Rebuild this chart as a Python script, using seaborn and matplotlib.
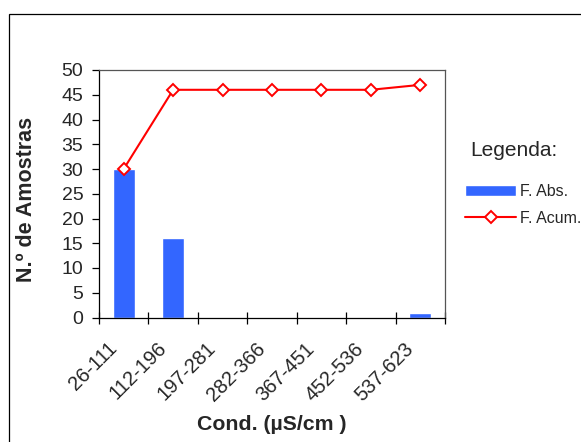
import numpy as np
import pandas as pd
import matplotlib
matplotlib.use("Agg")
import matplotlib.pyplot as plt
import matplotlib.transforms as mtransforms
from matplotlib.patches import Rectangle
import seaborn as sns

# ---- data ----
categories = ["26-111", "112-196", "197-281", "282-366", "367-451", "452-536", "537-623"]
f_abs = [30, 16, 0, 0, 0, 0, 1]
f_acum = [30, 46, 46, 46, 46, 46, 47]
y_ticks = [0, 5, 10, 15, 20, 25, 30, 35, 40, 45, 50]

sns.set_theme(style="white")
plt.rcParams["font.family"] = ["Liberation Sans", "DejaVu Sans"]

W, H = 581, 442
fig = plt.figure(figsize=(W / 100, H / 100), dpi=100)
fig.patch.set_facecolor("white")

# outer chart border (cut off at right/bottom as in reference)
x0 = 9 / W
ytop = 1 - 14 / H
fig.add_artist(Rectangle((x0, -0.2), 1.5, ytop + 0.2, transform=fig.transFigure,
                         fill=False, edgecolor="black", linewidth=0.9, clip_on=False))

left, right, top, bottom = 99 / W, 445 / W, 1 - 70 / H, 1 - 317.5 / H
ax = fig.add_axes([left, bottom, right - left, top - bottom])
ax.set_facecolor("white")

pos = np.arange(len(categories))
df = pd.DataFrame({"cat": categories, "pos": pos, "abs": f_abs, "acum": f_acum})

sns.barplot(data=df, x="cat", y="abs", color="#3366FF", saturation=1, width=0.45,
            ax=ax, label="F. Abs.")
sns.lineplot(data=df, x="pos", y="acum", color="#FF0000", linewidth=1.5,
             marker="D", markersize=6.5, markerfacecolor="white",
             markeredgecolor="#FF0000", markeredgewidth=1.4, ax=ax, label="F. Acum.")

ax.set_xlim(-0.5, len(categories) - 0.5)
ax.set_ylim(0, 50)
ax.set_yticks(y_ticks)
ax.set_yticklabels([str(v) for v in y_ticks])

ax.set_xticks(pos)
ax.set_xticklabels(categories, rotation=45, ha="right", va="center",
                   rotation_mode="anchor", fontsize=14.5)
ax.set_xticks(np.arange(len(categories) + 1) - 0.5, minor=True)
ax.tick_params(axis="x", which="major", length=0, pad=0)
ax.tick_params(axis="x", which="minor", direction="inout", length=8.5, width=0.9,
               color="black", bottom=True)
ax.tick_params(axis="y", which="major", direction="out", length=4.7, width=0.9,
               color="black", left=True, pad=6.5, labelsize=14)
for lab in ax.get_xticklabels():
    lab.set_transform(lab.get_transform() +
                      mtransforms.ScaledTranslation(-10 / 100, -28 / 100, fig.dpi_scale_trans))

for s in ["left", "bottom"]:
    ax.spines[s].set_color("black")
    ax.spines[s].set_linewidth(0.9)
for s in ["top", "right"]:
    ax.spines[s].set_color("#555555")
    ax.spines[s].set_linewidth(0.9)
ax.grid(False)

ax.set_xlabel("Cond. (µS/cm )", fontsize=15.3, fontweight="bold", va="center")
ax.xaxis.set_label_coords(0.5, (317.5 - 425) / 248)
ax.set_ylabel("N.º de Amostras", fontsize=15.5, fontweight="bold", va="center")
ax.yaxis.set_label_coords((27 - 99) / 346, (317.5 - 199) / 248)

# legend
handles, labels = ax.get_legend_handles_labels()
order = [labels.index("F. Abs."), labels.index("F. Acum.")]
leg = ax.legend([handles[i] for i in order], [labels[i] for i in order],
                loc="upper left", bbox_to_anchor=(465 / W, 1 - 184 / H),
                bbox_transform=fig.transFigure, frameon=False, fontsize=11.5,
                borderpad=0, borderaxespad=0, handlelength=3.2, handletextpad=0.25,
                labelspacing=0.75, numpoints=1)
fig.text(470 / W, 1 - 150 / H, "Legenda:", fontsize=15, va="center", ha="left")

fig.savefig("out.png", dpi=100, facecolor="white")
